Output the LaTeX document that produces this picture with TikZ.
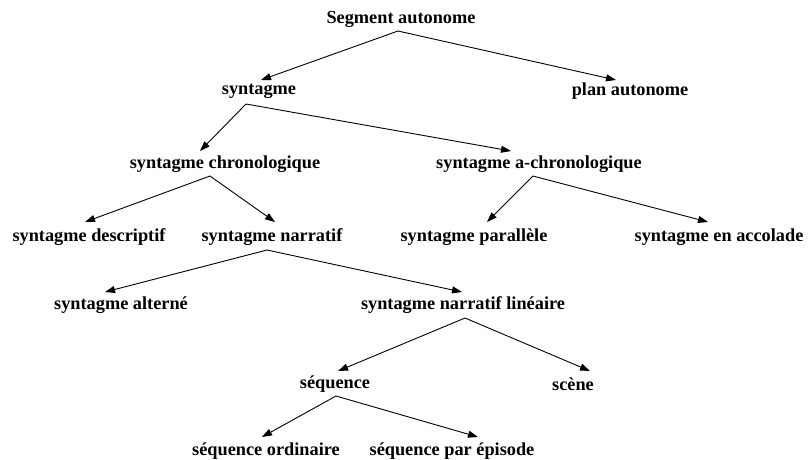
\documentclass[tikz,border=0pt]{standalone}
\usepackage{fontspec}
\setmainfont{Liberation Serif}
\usetikzlibrary{arrows.meta}
\begin{document}
\begin{tikzpicture}[x=1pt,y=-1pt,
  term/.style={inner sep=0pt,font=\fontsize{18.3}{21}\selectfont\bfseries},
  link/.style={line width=0.9pt,-{Triangle[length=10pt,width=7pt]}}]
\useasboundingbox (0,0) rectangle (808,459);
% nodes of the tree
\node[term] (seg)    at (401,19)  {Segment autonome};
\node[term] (synt)   at (259,91)  {syntagme};
\node[term] (plan)   at (630,91)  {plan autonome};
\node[term] (chron)  at (225,164) {syntagme chronologique};
\node[term] (achron) at (539,164) {syntagme a-chronologique};
\node[term] (desc)   at (89,237)  {syntagme descriptif};
\node[term] (narr)   at (272,237) {syntagme narratif};
\node[term] (para)   at (474,237) {syntagme parallèle};
\node[term] (acc)    at (719,237) {syntagme en accolade};
\node[term] (alt)    at (121,305) {syntagme alterné};
\node[term] (lin)    at (463,305) {syntagme narratif linéaire};
\node[term] (seq)    at (335,384) {séquence};
\node[term] (scene)  at (573,384) {scène};
\node[term] (ord)    at (266,451) {séquence ordinaire};
\node[term] (epi)    at (452,451) {séquence par épisode};
% branches
\draw[link] ([shift={(-3,12)}]seg.center)   -- ([shift={(2,-11)}]synt.center);
\draw[link] ([shift={(-3,12)}]seg.center)   -- ([shift={(-14,-11)}]plan.center);
\draw[link] ([shift={(-13,13)}]synt.center) -- ([shift={(-25,-13)}]chron.center);
\draw[link] ([shift={(-13,13)}]synt.center) -- ([shift={(-28,-13)}]achron.center);
\draw[link] ([shift={(-15,12)}]chron.center) -- ([shift={(-4,-15)}]desc.center);
\draw[link] ([shift={(-15,12)}]chron.center) -- ([shift={(3,-15)}]narr.center);
\draw[link] ([shift={(-6,12)}]achron.center) -- ([shift={(13,-15)}]para.center);
\draw[link] ([shift={(-6,12)}]achron.center) -- ([shift={(-11,-15)}]acc.center);
\draw[link] ([shift={(-5,13)}]narr.center)  -- ([shift={(-16,-13)}]alt.center);
\draw[link] ([shift={(-5,13)}]narr.center)  -- ([shift={(-1,-13)}]lin.center);
\draw[link] ([shift={(2,13)}]lin.center)    -- ([shift={(3,-13)}]seq.center);
\draw[link] ([shift={(2,13)}]lin.center)    -- ([shift={(17,-13)}]scene.center);
\draw[link] ([shift={(1,12)}]seq.center)    -- ([shift={(-4,-14)}]ord.center);
\draw[link] ([shift={(1,12)}]seq.center)    -- ([shift={(26,-14)}]epi.center);
\end{tikzpicture}
\end{document}
